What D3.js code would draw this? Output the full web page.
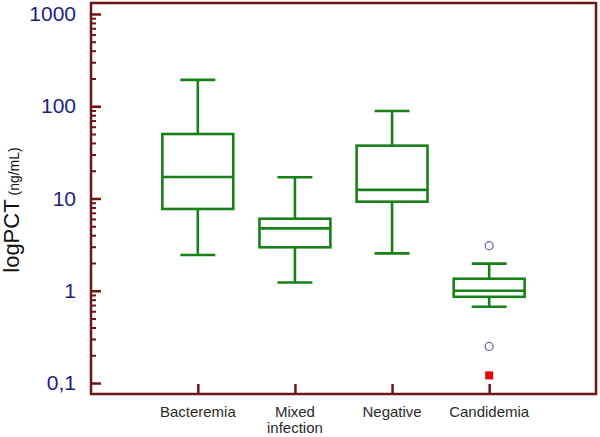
<!DOCTYPE html>
<html>
<head>
<meta charset="utf-8">
<script src="https://cdn.jsdelivr.net/npm/d3@7"></script>
<style>
  html, body { margin: 0; padding: 0; background: #fff; }
  svg { display: block; }
</style>
</head>
<body>
<svg id="chart" width="600" height="437"></svg>
<script>
// ---- data ----
const categories = ["Bacteremia", "Mixed infection", "Negative", "Candidemia"];
const categoryLabelLines = [["Bacteremia"], ["Mixed", "infection"], ["Negative"], ["Candidemia"]];
const whiskerLow  = [2.44, 1.23, 2.54, 0.67];
const quartile1   = [7.7, 2.96, 9.24, 0.86];
const medians     = [17.1, 4.75, 12.4, 1.0];
const quartile3   = [50, 6.04, 37.4, 1.35];
const whiskerHigh = [193, 17, 88.8, 1.97];
const outsideCategories = ["Candidemia", "Candidemia"];
const outsideValues     = [3.08, 0.249];
const farOutCategories  = ["Candidemia"];
const farOutValues      = [0.121];
const yTickValues = [0.1, 1, 10, 100, 1000];
const yTickLabels = ["0,1", "1", "10", "100", "1000"];

// ---- layout ----
const svg = d3.select("#chart");
const plotLeft = 91, plotRight = 596, plotTop = 3, plotBottom = 394;
const axisColor = "#6e1616";
const boxColor = "#197f19";
const tickColor = "#1c1c84";

const y = d3.scaleLog().domain([Math.pow(10, -1.119), Math.pow(10, 3.119)]).range([plotBottom, plotTop]);
const x = d3.scalePoint().domain(categories).range([plotLeft, plotRight]).padding(1.1);

const minorTicks = [];
for (let e = -1; e < 3; e++) for (let m = 2; m <= 9; m++) minorTicks.push(m * Math.pow(10, e));

// minor ticks
const minorAxis = svg.append("g").attr("transform", `translate(${plotLeft},0)`)
  .call(d3.axisLeft(y).tickValues(minorTicks).tickSize(-5).tickFormat(""));
minorAxis.select(".domain").remove();
minorAxis.selectAll("line").attr("stroke", axisColor).attr("stroke-width", 2);

// major ticks
const majorAxis = svg.append("g").attr("transform", `translate(${plotLeft},0)`)
  .call(d3.axisLeft(y).tickValues(yTickValues).tickSize(-10).tickPadding(15)
    .tickFormat((d, i) => yTickLabels[i]));
majorAxis.select(".domain").remove();
majorAxis.selectAll("line").attr("stroke", axisColor).attr("stroke-width", 2.5);
majorAxis.selectAll("text").attr("fill", tickColor)
  .style("font-family", "Liberation Sans, Arial, sans-serif").style("font-size", "21px");

// x axis ticks
const xAxis = svg.append("g").attr("transform", `translate(0,${plotBottom})`)
  .call(d3.axisBottom(x).tickSize(-10).tickFormat(""));
xAxis.select(".domain").remove();
xAxis.selectAll("line").attr("stroke", axisColor).attr("stroke-width", 2.5);

// x labels
const xl = svg.append("g");
categories.forEach((c, i) => {
  const t = xl.append("text").attr("x", x(c)).attr("y", 417)
    .attr("text-anchor", "middle").attr("fill", "#2a2a2a")
    .style("font-family", "Liberation Sans, Arial, sans-serif").style("font-size", "15px");
  categoryLabelLines[i].forEach((line, j) => {
    t.append("tspan").attr("x", x(c)).attr("dy", j === 0 ? 0 : 16).text(line);
  });
});

// frame
svg.append("rect").attr("x", plotLeft).attr("y", plotTop).attr("width", plotRight - plotLeft).attr("height", plotBottom - plotTop)
  .attr("fill", "none").attr("stroke", axisColor).attr("stroke-width", 2.5);

// y label
const yl = svg.append("text").attr("transform", `translate(19,210) rotate(-90)`)
  .attr("text-anchor", "middle").attr("fill", "#111")
  .style("font-family", "Liberation Sans, Arial, sans-serif");
yl.append("tspan").style("font-size", "22px").text("logPCT");
yl.append("tspan").style("font-size", "14px").text(" (ng/mL)");

// boxes
const bw = x.step() * 0.73, cw = x.step() * 0.36;
const g = svg.append("g").attr("stroke", boxColor).attr("stroke-width", 2.6).attr("fill", "none");
categories.forEach((c, i) => {
  const cx = x(c);
  g.append("line").attr("x1", cx).attr("x2", cx).attr("y1", y(whiskerHigh[i])).attr("y2", y(quartile3[i]));
  g.append("line").attr("x1", cx).attr("x2", cx).attr("y1", y(quartile1[i])).attr("y2", y(whiskerLow[i]));
  g.append("line").attr("x1", cx - cw / 2).attr("x2", cx + cw / 2).attr("y1", y(whiskerHigh[i])).attr("y2", y(whiskerHigh[i]));
  g.append("line").attr("x1", cx - cw / 2).attr("x2", cx + cw / 2).attr("y1", y(whiskerLow[i])).attr("y2", y(whiskerLow[i]));
  g.append("rect").attr("x", cx - bw / 2).attr("width", bw)
    .attr("y", y(quartile3[i])).attr("height", y(quartile1[i]) - y(quartile3[i]));
  g.append("line").attr("x1", cx - bw / 2).attr("x2", cx + bw / 2).attr("y1", y(medians[i])).attr("y2", y(medians[i]));
});

// outside values
svg.append("g").selectAll("circle").data(outsideValues).join("circle")
  .attr("cx", (d, i) => x(outsideCategories[i])).attr("cy", d => y(d)).attr("r", 4)
  .attr("fill", "none").attr("stroke", "#6a6aa8").attr("stroke-width", 1.3);

// far out values
svg.append("g").selectAll("rect").data(farOutValues).join("rect")
  .attr("x", (d, i) => x(farOutCategories[i]) - 4).attr("y", d => y(d) - 4)
  .attr("width", 8).attr("height", 8).attr("fill", "#ee0000");
</script>
</body>
</html>
